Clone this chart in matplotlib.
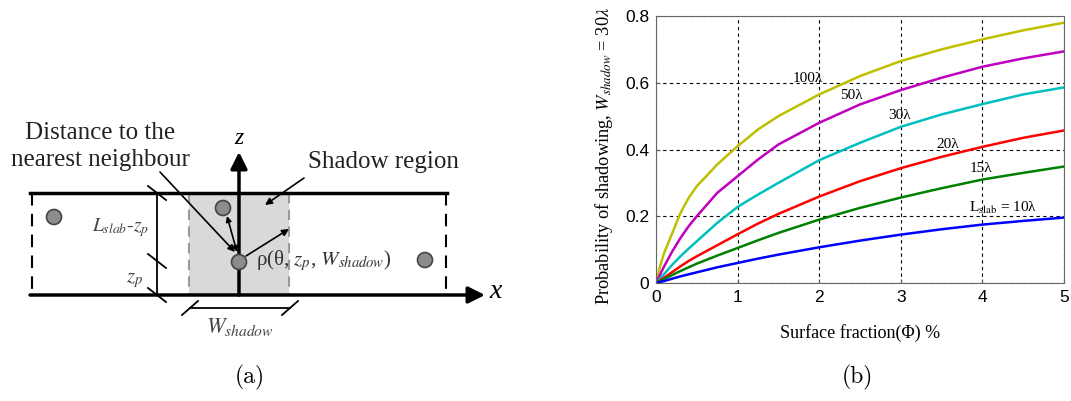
import numpy as np
import matplotlib.pyplot as plt
from matplotlib.patches import Circle, Rectangle

plt.rcParams['font.family'] = ['Liberation Serif', 'DejaVu Serif']
plt.rcParams['mathtext.fontset'] = 'stix'

# ---- data for panel (b)
phi = [0, 0.05, 0.1, 0.2, 0.3, 0.4, 0.5, 0.75, 1, 1.25, 1.5, 2, 2.5, 3, 3.5, 4, 4.5, 5]
p_100 = [0, 0.05, 0.09, 0.15, 0.21, 0.255, 0.29, 0.355, 0.41, 0.46, 0.50, 0.565, 0.62, 0.665, 0.70, 0.73, 0.757, 0.78]
p_50 = [0, 0.025, 0.05, 0.095, 0.135, 0.17, 0.2, 0.27, 0.32, 0.37, 0.415, 0.48, 0.535, 0.578, 0.615, 0.648, 0.673, 0.694]
p_30 = [0, 0.013, 0.027, 0.055, 0.08, 0.103, 0.125, 0.18, 0.228, 0.265, 0.30, 0.368, 0.42, 0.468, 0.505, 0.536, 0.565, 0.586]
p_20 = [0, 0.008, 0.016, 0.033, 0.05, 0.066, 0.08, 0.113, 0.146, 0.178, 0.207, 0.259, 0.305, 0.344, 0.378, 0.408, 0.435, 0.457]
p_15 = [0, 0.006, 0.012, 0.024, 0.036, 0.047, 0.058, 0.082, 0.105, 0.128, 0.15, 0.19, 0.225, 0.256, 0.284, 0.31, 0.33, 0.349]
p_10 = [0, 0.003, 0.006, 0.013, 0.02, 0.026, 0.032, 0.047, 0.06, 0.073, 0.085, 0.107, 0.127, 0.145, 0.161, 0.175, 0.186, 0.196]

series = [p_100, p_50, p_30, p_20, p_15, p_10]
colors = ['#bfbf00', '#bf00bf', '#00bfbf', '#ff0000', '#008000', '#0000ff']
curve_labels = ['100λ', '50λ', '30λ', '20λ', '15λ', r'L$_{\rm slab}$ = 10λ']
label_pos = [(1.86, 0.614), (2.4, 0.563), (2.99, 0.503), (3.57, 0.416), (3.98, 0.344), (4.25, 0.224)]

W, H = 1071, 401
fig = plt.figure(figsize=(W / 100, H / 100), dpi=100)

# ---- panel (a): schematic, drawn in pixel units
ax = fig.add_axes([0, 0, 590 / W, 1])
ax.set_xlim(0, 590)
ax.set_ylim(H, 0)
ax.axis('off')

y_top, y_bot = 193, 295
x_left, x_right = 32, 446
sh_l, sh_r = 189, 289
x_z = 239

ax.add_patch(Rectangle((sh_l, y_top), sh_r - sh_l, y_bot - y_top, fc='#d9d9d9', ec='none'))
for xx in (sh_l, sh_r):
    ax.plot([xx, xx], [y_top, y_bot], color='#9a9a9a', lw=1.5, dashes=(5, 3))
for xx in (x_left, x_right):
    ax.plot([xx, xx], [y_top, y_bot], color='k', lw=1.5, dashes=(6, 4))
ax.plot([30, 447], [y_top, y_top], color='k', lw=2.5)

arrow_axis = dict(arrowstyle='-|>', lw=2.5, color='k', mutation_scale=25, shrinkA=0, shrinkB=0)
ax.annotate('', xy=(485, y_bot), xytext=(30, y_bot), arrowprops=arrow_axis)
ax.annotate('', xy=(x_z, 152), xytext=(x_z, y_bot), arrowprops=arrow_axis)
ax.text(496, 292, 'x', fontsize=20, style='italic', ha='center', va='center')
ax.text(x_z, 138, 'z', fontsize=17, style='italic', ha='center', va='center')

# dimension line at left
ax.plot([157, 157], [y_top, y_bot], color='k', lw=1.3)
for yy in (y_top, 261, y_bot):
    ax.plot([148, 166], [yy - 7, yy + 7], color='k', lw=1.3)
ax.text(121, 228, r'$L_{slab}$-$z_p$', fontsize=14, color='#444', ha='center', va='center')
ax.text(135, 281, r'$z_p$', fontsize=15, color='#444', ha='center', va='center')

# particles
for cx, cy in [(54, 217), (223, 208), (x_z, 262), (425, 260)]:
    ax.add_patch(Circle((cx, cy), 7.5, fc='#8c8c8c', ec='#444', lw=1.2, zorder=5))

ax.text(100, 133, 'Distance to the', fontsize=18, ha='center', va='center', color='#222')
ax.text(100, 160, 'nearest neighbour', fontsize=18, ha='center', va='center', color='#222')
ax.text(383, 162, 'Shadow region', fontsize=18, ha='center', va='center', color='#222')

thin = dict(arrowstyle='-|>', lw=1.2, color='k', mutation_scale=10, shrinkA=0, shrinkB=0)
ax.annotate('', xy=(235, 252), xytext=(160, 172), arrowprops=thin)
ax.annotate('', xy=(227, 216), xytext=(237, 252),
            arrowprops=dict(arrowstyle='<|-|>', lw=1.2, color='k', mutation_scale=8, shrinkA=0, shrinkB=0))
ax.annotate('', xy=(289, 229), xytext=(246, 256), arrowprops=thin)
ax.annotate('', xy=(265, 205), xytext=(304, 178), arrowprops=thin)
ax.text(256, 261, r'ρ(θ, $z_p$, $W_{shadow}$)', fontsize=15, ha='left', va='center', color='#333')

# W_shadow dimension
ax.plot([190, 290], [308, 308], color='k', lw=1.3)
for xx in (190, 290):
    ax.plot([xx - 8, xx + 8], [315, 301], color='k', lw=1.3)
ax.text(240, 327, r'$W_{shadow}$', fontsize=16, color='#444', ha='center', va='center')

fig.text(250 / W, 1 - 377 / H, '(a)', fontsize=17, family='cmr10', ha='center', va='center')

# ---- panel (b): chart
bx = fig.add_axes([656 / W, 1 - 283 / H, 408 / W, 267 / H])
for ys, c in zip(series, colors):
    bx.plot(phi, ys, color=c, lw=1.8)
for (tx, ty), lab in zip(label_pos, curve_labels):
    bx.text(tx, ty, lab, fontsize=11, ha='center', va='center')

bx.set_xlim(0, 5)
bx.set_ylim(0, 0.8)
bx.set_xticks([0, 1, 2, 3, 4, 5])
bx.set_yticks([0, 0.2, 0.4, 0.6, 0.8])
bx.set_yticklabels(['0', '0.2', '0.4', '0.6', '0.8'])
bx.grid(True, color='k', lw=0.8, dashes=(3, 3))
bx.tick_params(direction='in', length=3, labelsize=12.5, pad=5, color='#555')
for lab in bx.get_xticklabels() + bx.get_yticklabels():
    lab.set_family('Liberation Sans')
for sp in bx.spines.values():
    sp.set_color('#666')
bx.set_xlabel('Surface fraction(Φ) %', fontsize=13, labelpad=14)
bx.set_ylabel(r'Probability of shadowing, $W_{shadow}$ = 30$\lambda$', fontsize=13.2)
bx.yaxis.set_label_coords(-0.1, 0.475)

fig.text(857 / W, 1 - 377 / H, '(b)', fontsize=17, family='cmr10', ha='center', va='center')

fig.savefig('out.png', dpi=100)
